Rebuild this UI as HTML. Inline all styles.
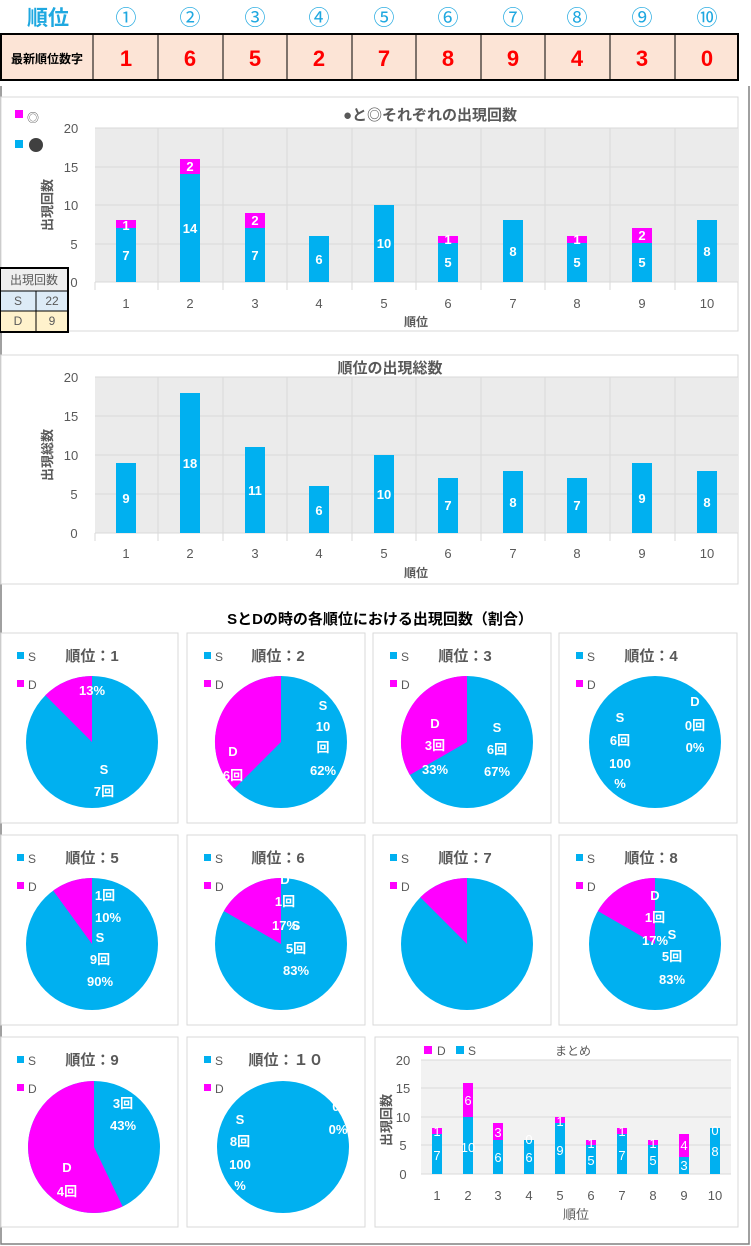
<!DOCTYPE html>
<html><head><meta charset="utf-8"><style>
body{margin:0;background:#fff;}
svg{display:block;font-family:"Liberation Sans","Noto Sans CJK JP",sans-serif;}
.w{fill:#fff;font-weight:bold;font-size:13px;text-anchor:middle;}
.ax{fill:#595959;font-size:13px;text-anchor:middle;}
.pt{fill:#595959;font-size:15px;font-weight:bold;text-anchor:middle;}
.lg{fill:#595959;font-size:12px;}
</style></head><body>
<svg width="751" height="1246" viewBox="0 0 751 1246">
<!-- header -->
<text x="48" y="25" font-size="21" font-weight="bold" fill="#1fa8e0" text-anchor="middle">順位</text>
<g font-size="21" fill="#1fa8e0" text-anchor="middle">
<text x="126" y="25">①</text><text x="190" y="25">②</text><text x="255" y="25">③</text><text x="319" y="25">④</text><text x="384" y="25">⑤</text><text x="448" y="25">⑥</text><text x="513" y="25">⑦</text><text x="577" y="25">⑧</text><text x="642" y="25">⑨</text><text x="707" y="25">⑩</text></g>
<rect x="1" y="34" width="737" height="46" fill="#fce4d6" stroke="#000" stroke-width="2"/>
<g stroke="#000" stroke-width="1"><line x1="93" y1="34" x2="93" y2="80"/><line x1="158" y1="34" x2="158" y2="80"/><line x1="223" y1="34" x2="223" y2="80"/><line x1="287" y1="34" x2="287" y2="80"/><line x1="352" y1="34" x2="352" y2="80"/><line x1="416" y1="34" x2="416" y2="80"/><line x1="481" y1="34" x2="481" y2="80"/><line x1="545" y1="34" x2="545" y2="80"/><line x1="610" y1="34" x2="610" y2="80"/><line x1="675" y1="34" x2="675" y2="80"/></g>
<text x="47" y="63" font-size="12" font-weight="bold" text-anchor="middle">最新順位数字</text>
<g font-size="22" font-weight="bold" fill="#ff0000" text-anchor="middle" font-family="Liberation Sans Narrow, Liberation Sans, sans-serif">
<text x="126" y="66">1</text><text x="190" y="66">6</text><text x="255" y="66">5</text><text x="319" y="66">2</text><text x="384" y="66">7</text><text x="448" y="66">8</text><text x="513" y="66">9</text><text x="577" y="66">4</text><text x="642" y="66">3</text><text x="707" y="66">0</text></g>
<!-- page frame -->
<path d="M1 86 V1244 H749 V86" fill="none" stroke="#808080" stroke-width="1.5"/>

<!-- chart1 -->
<rect x="1" y="97" width="737" height="234" fill="#fff" stroke="#d9d9d9"/>
<rect x="95" y="128" width="643" height="154" fill="#ebebeb"/>
<g stroke="#d9d9d9"><line x1="95" y1="128" x2="738" y2="128"/><line x1="95" y1="167" x2="738" y2="167"/><line x1="95" y1="205" x2="738" y2="205"/><line x1="95" y1="244" x2="738" y2="244"/><line x1="95" y1="282" x2="738" y2="282"/>
<line x1="158" y1="128" x2="158" y2="290"/><line x1="223" y1="128" x2="223" y2="290"/><line x1="287" y1="128" x2="287" y2="290"/><line x1="352" y1="128" x2="352" y2="290"/><line x1="416" y1="128" x2="416" y2="290"/><line x1="481" y1="128" x2="481" y2="290"/><line x1="545" y1="128" x2="545" y2="290"/><line x1="610" y1="128" x2="610" y2="290"/><line x1="675" y1="128" x2="675" y2="290"/><line x1="95" y1="282" x2="95" y2="290"/></g>
<text x="430" y="120" class="pt">●と◎それぞれの出現回数</text>
<g class="ax"><text x="71" y="133">20</text><text x="71" y="172">15</text><text x="71" y="210">10</text><text x="74" y="249">5</text><text x="74" y="287">0</text></g>
<text transform="translate(52,205) rotate(-90)" class="ax" font-weight="bold" font-size="12">出現回数</text>
<rect x="15" y="110" width="8" height="8" fill="#ff00ff"/><text x="27" y="122" class="lg" font-size="16" fill="#999">◎</text>
<rect x="15" y="140" width="8" height="8" fill="#00b0f0"/><circle cx="36" cy="145" r="7" fill="#404040"/>
<g fill="#00b0f0">
<rect x="116" y="228" width="20" height="54"/><rect x="180" y="174" width="20" height="108"/><rect x="245" y="228" width="20" height="54"/><rect x="309" y="236" width="20" height="46"/><rect x="374" y="205" width="20" height="77"/><rect x="438" y="243" width="20" height="39"/><rect x="503" y="220" width="20" height="62"/><rect x="567" y="243" width="20" height="39"/><rect x="632" y="243" width="20" height="39"/><rect x="697" y="220" width="20" height="62"/></g>
<g fill="#ff00ff">
<rect x="116" y="220" width="20" height="8"/><rect x="180" y="159" width="20" height="15"/><rect x="245" y="213" width="20" height="15"/><rect x="438" y="236" width="20" height="7"/><rect x="567" y="236" width="20" height="7"/><rect x="632" y="228" width="20" height="15"/></g>
<g class="w">
<text x="126" y="260">7</text><text x="126" y="230">1</text><text x="190" y="233">14</text><text x="190" y="171">2</text><text x="255" y="260">7</text><text x="255" y="225">2</text><text x="319" y="264">6</text><text x="384" y="248">10</text><text x="448" y="267">5</text><text x="448" y="244">1</text><text x="513" y="256">8</text><text x="577" y="267">5</text><text x="577" y="244">1</text><text x="642" y="267">5</text><text x="642" y="240">2</text><text x="707" y="256">8</text></g>
<g class="ax"><text x="126" y="308">1</text><text x="190" y="308">2</text><text x="255" y="308">3</text><text x="319" y="308">4</text><text x="384" y="308">5</text><text x="448" y="308">6</text><text x="513" y="308">7</text><text x="577" y="308">8</text><text x="642" y="308">9</text><text x="707" y="308">10</text><text x="416" y="326" font-weight="bold" font-size="12">順位</text></g>
<!-- small table -->
<rect x="0" y="268" width="68" height="64" fill="#fff" stroke="#000" stroke-width="2"/>
<rect x="1" y="269" width="66" height="22" fill="#efefef"/>
<rect x="1" y="291" width="66" height="20" fill="#ddebf7"/>
<rect x="1" y="311" width="66" height="20" fill="#fff2cc"/>
<g stroke="#000"><line x1="0" y1="291" x2="68" y2="291"/><line x1="0" y1="311" x2="68" y2="311"/><line x1="36" y1="291" x2="36" y2="332"/></g>
<g class="lg" text-anchor="middle" font-size="11"><text x="34" y="284">出現回数</text><text x="18" y="305">S</text><text x="52" y="305">22</text><text x="18" y="325">D</text><text x="52" y="325">9</text></g>

<!-- chart2 -->
<rect x="1" y="355" width="737" height="229" fill="#fff" stroke="#d9d9d9"/>
<rect x="95" y="377" width="643" height="156" fill="#ebebeb"/>
<g stroke="#d9d9d9"><line x1="95" y1="377" x2="738" y2="377"/><line x1="95" y1="416" x2="738" y2="416"/><line x1="95" y1="455" x2="738" y2="455"/><line x1="95" y1="494" x2="738" y2="494"/><line x1="95" y1="533" x2="738" y2="533"/>
<line x1="158" y1="377" x2="158" y2="541"/><line x1="223" y1="377" x2="223" y2="541"/><line x1="287" y1="377" x2="287" y2="541"/><line x1="352" y1="377" x2="352" y2="541"/><line x1="416" y1="377" x2="416" y2="541"/><line x1="481" y1="377" x2="481" y2="541"/><line x1="545" y1="377" x2="545" y2="541"/><line x1="610" y1="377" x2="610" y2="541"/><line x1="675" y1="377" x2="675" y2="541"/><line x1="95" y1="533" x2="95" y2="541"/></g>
<text x="390" y="373" class="pt" font-size="14">順位の出現総数</text>
<g class="ax"><text x="71" y="382">20</text><text x="71" y="421">15</text><text x="71" y="460">10</text><text x="74" y="499">5</text><text x="74" y="538">0</text></g>
<text transform="translate(52,455) rotate(-90)" class="ax" font-weight="bold" font-size="12">出現総数</text>
<g fill="#00b0f0">
<rect x="116" y="463" width="20" height="70"/><rect x="180" y="393" width="20" height="140"/><rect x="245" y="447" width="20" height="86"/><rect x="309" y="486" width="20" height="47"/><rect x="374" y="455" width="20" height="78"/><rect x="438" y="478" width="20" height="55"/><rect x="503" y="471" width="20" height="62"/><rect x="567" y="478" width="20" height="55"/><rect x="632" y="463" width="20" height="70"/><rect x="697" y="471" width="20" height="62"/></g>
<g class="w"><text x="126" y="503">9</text><text x="190" y="468">18</text><text x="255" y="495">11</text><text x="319" y="515">6</text><text x="384" y="499">10</text><text x="448" y="510">7</text><text x="513" y="507">8</text><text x="577" y="510">7</text><text x="642" y="503">9</text><text x="707" y="507">8</text></g>
<g class="ax"><text x="126" y="558">1</text><text x="190" y="558">2</text><text x="255" y="558">3</text><text x="319" y="558">4</text><text x="384" y="558">5</text><text x="448" y="558">6</text><text x="513" y="558">7</text><text x="577" y="558">8</text><text x="642" y="558">9</text><text x="707" y="558">10</text><text x="416" y="577" font-weight="bold" font-size="12">順位</text></g>

<text x="380" y="624" font-size="15" font-weight="bold" text-anchor="middle" fill="#000">SとDの時の各順位における出現回数（割合）</text>

<!-- pie boxes -->
<g fill="#fff" stroke="#d9d9d9">
<rect x="1" y="633" width="177" height="190"/><rect x="187" y="633" width="178" height="190"/><rect x="373" y="633" width="178" height="190"/><rect x="559" y="633" width="178" height="190"/>
<rect x="1" y="835" width="177" height="190"/><rect x="187" y="835" width="178" height="190"/><rect x="373" y="835" width="178" height="190"/><rect x="559" y="835" width="178" height="190"/>
<rect x="1" y="1037" width="177" height="190"/><rect x="187" y="1037" width="178" height="190"/><rect x="375" y="1037" width="363" height="190"/></g>

<!-- legends & titles -->
<g fill="#00b0f0"><rect x="17" y="652" width="7" height="7"/><rect x="204" y="652" width="7" height="7"/><rect x="390" y="652" width="7" height="7"/><rect x="576" y="652" width="7" height="7"/><rect x="17" y="854" width="7" height="7"/><rect x="204" y="854" width="7" height="7"/><rect x="390" y="854" width="7" height="7"/><rect x="576" y="854" width="7" height="7"/><rect x="17" y="1056" width="7" height="7"/><rect x="204" y="1056" width="7" height="7"/></g>
<g fill="#ff00ff"><rect x="17" y="680" width="7" height="7"/><rect x="204" y="680" width="7" height="7"/><rect x="390" y="680" width="7" height="7"/><rect x="576" y="680" width="7" height="7"/><rect x="17" y="882" width="7" height="7"/><rect x="204" y="882" width="7" height="7"/><rect x="390" y="882" width="7" height="7"/><rect x="576" y="882" width="7" height="7"/><rect x="17" y="1084" width="7" height="7"/><rect x="204" y="1084" width="7" height="7"/></g>
<g class="lg"><text x="28" y="661">S</text><text x="28" y="689">D</text><text x="215" y="661">S</text><text x="215" y="689">D</text><text x="401" y="661">S</text><text x="401" y="689">D</text><text x="587" y="661">S</text><text x="587" y="689">D</text>
<text x="28" y="863">S</text><text x="28" y="891">D</text><text x="215" y="863">S</text><text x="215" y="891">D</text><text x="401" y="863">S</text><text x="401" y="891">D</text><text x="587" y="863">S</text><text x="587" y="891">D</text>
<text x="28" y="1065">S</text><text x="28" y="1093">D</text><text x="215" y="1065">S</text><text x="215" y="1093">D</text></g>
<g class="pt"><text x="92" y="661">順位：1</text><text x="278" y="661">順位：2</text><text x="465" y="661">順位：3</text><text x="651" y="661">順位：4</text>
<text x="92" y="863">順位：5</text><text x="278" y="863">順位：6</text><text x="465" y="863">順位：7</text><text x="651" y="863">順位：8</text>
<text x="92" y="1065">順位：9</text><text x="286" y="1065">順位：１０</text></g>

<!-- pies -->
<g fill="#00b0f0">
<circle cx="92" cy="742" r="66"/><circle cx="281" cy="742" r="66"/><circle cx="467" cy="742" r="66"/><circle cx="655" cy="742" r="66"/>
<circle cx="92" cy="944" r="66"/><circle cx="281" cy="944" r="66"/><circle cx="467" cy="944" r="66"/><circle cx="655" cy="944" r="66"/>
<circle cx="94" cy="1147" r="66"/><circle cx="283" cy="1147" r="66"/></g>
<g fill="#ff00ff">
<path d="M92 742 L45.3 695.3 A66 66 0 0 1 92 676 Z"/>
<path d="M281 742 L234.3 788.7 A66 66 0 0 1 281 676 Z"/>
<path d="M467 742 L409.8 775 A66 66 0 0 1 467 676 Z"/>
<path d="M92 944 L53.2 890.6 A66 66 0 0 1 92 878 Z"/>
<path d="M281 944 L223.8 911 A66 66 0 0 1 281 878 Z"/>
<path d="M467 944 L420.3 897.3 A66 66 0 0 1 467 878 Z"/>
<path d="M655 944 L597.8 911 A66 66 0 0 1 655 878 Z"/>
<path d="M94 1147 L122.6 1206.5 A66 66 0 1 1 94 1081 Z"/></g>
<g class="w">
<text x="92" y="695">13%</text><text x="104" y="774">S</text><text x="104" y="796">7回</text>
<text x="323" y="710">S</text><text x="323" y="731">10</text><text x="323" y="752">回</text><text x="323" y="775">62%</text><text x="233" y="756">D</text><text x="233" y="780">6回</text>
<text x="435" y="728">D</text><text x="435" y="750">3回</text><text x="435" y="774">33%</text><text x="497" y="732">S</text><text x="497" y="754">6回</text><text x="497" y="776">67%</text>
<text x="620" y="722">S</text><text x="620" y="745">6回</text><text x="620" y="768">100</text><text x="620" y="788">%</text><text x="695" y="706">D</text><text x="695" y="730">0回</text><text x="695" y="752">0%</text>
<text x="105" y="900">1回</text><text x="108" y="922">10%</text><text x="100" y="942">S</text><text x="100" y="964">9回</text><text x="100" y="986">90%</text>
<text x="285" y="884">D</text><text x="285" y="906">1回</text><text x="285" y="930">17%</text><text x="296" y="930">S</text><text x="296" y="953">5回</text><text x="296" y="975">83%</text>
<text x="655" y="900">D</text><text x="655" y="922">1回</text><text x="655" y="945">17%</text><text x="672" y="939">S</text><text x="672" y="961">5回</text><text x="672" y="984">83%</text>
<text x="123" y="1108">3回</text><text x="123" y="1130">43%</text><text x="67" y="1172">D</text><text x="67" y="1196">4回</text>
<text x="240" y="1124">S</text><text x="240" y="1146">8回</text><text x="240" y="1169">100</text><text x="240" y="1190">%</text><text x="338" y="1111">0)</text><text x="338" y="1134">0%</text></g>

<!-- summary chart -->
<rect x="421" y="1060" width="310" height="114" fill="#f2f2f2"/>
<g stroke="#d9d9d9"><line x1="421" y1="1060" x2="731" y2="1060"/><line x1="421" y1="1088" x2="731" y2="1088"/><line x1="421" y1="1117" x2="731" y2="1117"/><line x1="421" y1="1145" x2="731" y2="1145"/><line x1="421" y1="1174" x2="731" y2="1174"/></g>
<g fill="#00b0f0">
<rect x="432" y="1134" width="10" height="40"/><rect x="463" y="1117" width="10" height="57"/><rect x="493" y="1140" width="10" height="34"/><rect x="524" y="1140" width="10" height="34"/><rect x="555" y="1123" width="10" height="51"/><rect x="586" y="1145" width="10" height="29"/><rect x="617" y="1134" width="10" height="40"/><rect x="648" y="1145" width="10" height="29"/><rect x="679" y="1157" width="10" height="17"/><rect x="710" y="1128" width="10" height="46"/></g>
<g fill="#ff00ff">
<rect x="432" y="1128" width="10" height="6"/><rect x="463" y="1083" width="10" height="34"/><rect x="493" y="1123" width="10" height="17"/><rect x="555" y="1117" width="10" height="6"/><rect x="586" y="1140" width="10" height="5"/><rect x="617" y="1128" width="10" height="6"/><rect x="648" y="1140" width="10" height="5"/><rect x="679" y="1134" width="10" height="23"/></g>
<g fill="#fff" font-size="13" text-anchor="middle">
<text x="437" y="1160">7</text><text x="437" y="1136">1</text><text x="468" y="1152">10</text><text x="468" y="1105">6</text><text x="498" y="1162">6</text><text x="498" y="1137">3</text><text x="529" y="1162">6</text><text x="529" y="1144">0</text><text x="560" y="1155">9</text><text x="560" y="1126">1</text><text x="591" y="1165">5</text><text x="591" y="1148">1</text><text x="622" y="1160">7</text><text x="622" y="1136">1</text><text x="653" y="1165">5</text><text x="653" y="1148">1</text><text x="684" y="1170">3</text><text x="684" y="1150">4</text><text x="715" y="1156">8</text><text x="715" y="1135">0</text></g>
<g class="ax" font-size="12"><text x="403" y="1065">20</text><text x="403" y="1093">15</text><text x="403" y="1122">10</text><text x="403" y="1150">5</text><text x="403" y="1179">0</text>
<text x="437" y="1200">1</text><text x="468" y="1200">2</text><text x="498" y="1200">3</text><text x="529" y="1200">4</text><text x="560" y="1200">5</text><text x="591" y="1200">6</text><text x="622" y="1200">7</text><text x="653" y="1200">8</text><text x="684" y="1200">9</text><text x="715" y="1200">10</text><text x="576" y="1219">順位</text></g>
<text transform="translate(391,1120) rotate(-90)" class="ax" font-size="12" font-weight="bold">出現回数</text>
<rect x="424" y="1046" width="8" height="8" fill="#ff00ff"/><text x="437" y="1055" class="lg">D</text>
<rect x="456" y="1046" width="8" height="8" fill="#00b0f0"/><text x="468" y="1055" class="lg">S</text>
<text x="573" y="1055" class="lg" text-anchor="middle" fill="#808080">まとめ</text>
</svg>
</body></html>
